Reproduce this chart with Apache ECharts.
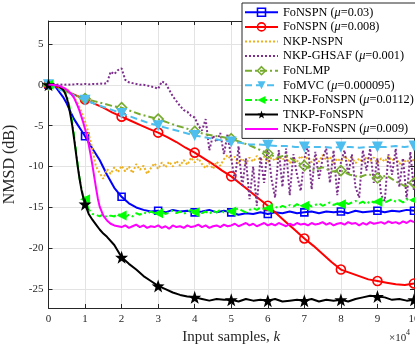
<!DOCTYPE html>
<html><head><meta charset="utf-8">
<script src="https://cdn.jsdelivr.net/npm/echarts@6/dist/echarts.min.js"></script>
<style>html,body{margin:0;padding:0;background:#fff}#c{width:415px;height:353px}</style>
</head><body><div id="c"></div>
<script>
// ---- data (x in units of 1e4 samples, y in dB) ----
const seriesNames = ['FoNSPN (μ=0.03)','FoNSPN (μ=0.008)','NKP-NSPN','NKP-GHSAF (μ=0.001)','FoNLMP','FoMVC (μ=0.000095)','NKP-FoNSPN (μ=0.0112)','TNKP-FoNSPN','NKP-FoNSPN (μ=0.009)'];
const xTicks = [0,1,2,3,4,5,6,7,8,9,10];
const yTicks = [-25,-20,-15,-10,-5,0,5];

const X_Q = [0,0.25,0.5,0.75,1,1.25,1.5,1.75,2,2.25,2.5,2.75,3,3.25,3.5,3.75,4,4.25,4.5,4.75,5,5.25,5.5,5.75,6,6.25,6.5,6.75,7,7.25,7.5,7.75,8,8.25,8.5,8.75,9,9.25,9.5,9.75,10];
const X_T = [0,0.1,0.2,0.3,0.4,0.5,0.6,0.7,0.8,0.9,1,1.1,1.2,1.3,1.4,1.5,1.6,1.7,1.8,1.9,2,2.1,2.2,2.3,2.4,2.5,2.6,2.7,2.8,2.9,3,3.1,3.2,3.3,3.4,3.5,3.6,3.7,3.8,3.9,4,4.1,4.2,4.3,4.4,4.5,4.6,4.7,4.8,4.9,5,5.1,5.2,5.3,5.4,5.5,5.6,5.7,5.8,5.9,6,6.1,6.2,6.3,6.4,6.5,6.6,6.7,6.8,6.9,7,7.1,7.2,7.3,7.4,7.5,7.6,7.7,7.8,7.9,8,8.1,8.2,8.3,8.4,8.5,8.6,8.7,8.8,8.9,9,9.1,9.2,9.3,9.4,9.5,9.6,9.7,9.8,9.9,10];

const blueX = [0,0.2,0.4,0.5,0.6,0.7,0.8,0.9,1,1.2,1.4,1.6,1.8,2,2.2,2.4,2.6,2.8,3,3.2,3.4,3.6,3.8,4,4.2,4.4,4.6,4.8,5,5.2,5.4,5.6,5.8,6,6.2,6.4,6.6,6.8,7,7.2,7.4,7.6,7.8,8,8.2,8.4,8.6,8.8,9,9.2,9.4,9.6,9.8,10];
const blueY = [0,-0.3,-1.5,-2.3,-3.3,-4.2,-4.9,-5.6,-6.3,
 -7.8,-9.2,-11.0,-12.6,-13.7,
 -14.5,-15.0,-15.3,-15.5,-15.4,
 -15.6,-15.3,-15.5,-15.4,-15.6,
 -15.5,-15.3,-15.6,-15.4,-15.6,
 -15.9,-15.7,-15.8,-15.6,-15.8,
 -15.6,-15.7,-15.5,-15.7,-15.6,
 -15.5,-15.7,-15.5,-15.6,-15.5,
 -15.7,-15.4,-15.6,-15.5,-15.4,
 -15.6,-15.4,-15.5,-15.3,-15.4];

const redY = [0,-0.3,-0.8,-1.3,-1.8, -2.3,-2.8,-3.4,-3.9, -4.4,-4.9,-5.4,-5.85, -6.4,-7.0,-7.7,-8.3, -9.0,-9.7,-10.5,-11.2, -12.1,-13.0,-13.9,-14.8, -15.8,-16.8,-17.8,-18.8, -19.7,-20.7,-21.7,-22.6, -23.0,-23.4,-23.8,-24.0, -24.2,-24.4,-24.5,-24.3];

const orangeX = [0,0.1,0.2,0.3,0.4,0.5,0.6,0.7,0.8,0.9,1,1.05,1.1,1.15,1.2,1.25,1.3,1.35,
 1.4,1.5,1.6,1.7,1.8,1.9,2,2.1,2.2,2.3,2.4,2.5,2.6,2.7,2.8,2.9,3,3.1,3.2,3.3,3.4,3.5,3.6,3.7,3.8,3.9,4,4.1,4.2,4.3,4.4,4.5,4.6,4.7,4.8,4.9,5,5.1,5.2,5.3,5.4,5.5,5.6,5.7,5.8,5.9,6,6.1,6.2,6.3,6.4,6.5,6.6,6.7,6.8,6.9,7,7.1,7.2,7.3,7.4,7.5,7.6,7.7,7.8,7.9,8,8.1,8.2,8.3,8.4,8.5,8.6,8.7,8.8,8.9,9,9.1,9.2,9.3,9.4,9.5,9.6,9.7,9.8,9.9,10];
const orangeY = [0,0,-0.05,-0.15,-0.3,-0.55,-0.9,-1.5,-2.3,-3.3,-4.5,-5.2,-6.0,-6.9,-7.8,-9.0,-10.0,-10.4,
 -10.8,-11.5,-10.3,-10.9,-10.1,-10.7,-9.9,
 -10.6,-10.0,-10.8,-9.7,-10.4,-9.9,-10.9,-10.2,-9.6,-10.3,
 -9.5,-10.1,-9.4,-10.0,-9.3,-9.9,-9.2,-9.8,-8.9,-9.5,
 -9.0,-9.7,-10.2,-9.6,-10.3,-9.4,-9.9,-9.1,-8.6,-9.2,
 -8.8,-9.6,-9.0,-9.7,-8.9,-9.4,-8.7,-9.3,-8.8,-9.5,
 -8.9,-9.3,-8.6,-9.2,-8.8,-9.6,-8.9,-9.4,-8.7,-9.3,
 -8.8,-9.5,-8.9,-9.4,-8.6,-9.2,-8.8,-9.7,-9.0,-9.4,
 -8.7,-9.3,-8.9,-9.6,-9.0,-9.5,-8.8,-9.3,-8.9,-9.6,
 -9.0,-9.4,-8.7,-9.3,-8.9,-9.7,-9.1,-9.5,-8.9,-9.3];

const purpleY = [0,0.05,0,0.05,0,0.05,0,0.05,0.1,0.05,0.1,
 0.05,0.1,0.1,0.15,0.1,0.2,1.6,1.3,1.8,2.0,
 0.6,0.3,0.2,0.1,0.0,0.0,-0.1,-0.2,-0.3,-0.5,
 0.4,0.2,-0.6,-1.4,-2.0,-2.6,-3.1,-3.3,-3.8,-4.0,
 -5.0,-5.6,-4.2,-8.0,-6.2,-7.0,-5.9,-8.5,-6.0,-9.0,
 -11.8,-7.5,-12.5,-9.0,-14.0,-10.0,-14.8,-8.8,-12.0,-7.5,
 -11.5,-13.8,-8.0,-12.5,-7.8,-13.5,-8.5,-11.0,-13.0,-9.0,
 -7.5,-12.8,-8.2,-11.5,-9.0,-7.8,-12.0,-8.0,-13.5,-9.5,
 -8.0,-11.0,-8.5,-12.5,-13.8,-8.0,-10.5,-7.8,-12.0,-9.0,
 -13.5,-14.2,-8.5,-11.0,-7.8,-12.5,-9.0,-14.0,-8.2,-13.0];

const oliveY = [0,-0.4,-0.8,-1.3,-1.7, -2.0,-2.3,-2.6,-2.8, -3.2,-3.6,-3.9,-4.2, -4.6,-5.0,-5.3,-5.7, -6.0,-6.2,-6.4,-6.6, -7.0,-7.4,-7.9,-8.4, -8.9,-8.6,-9.4,-9.9, -10.4,-10.1,-10.6,-10.5, -11.0,-11.3,-10.9,-11.4, -11.1,-11.8,-12.4,-12.0];

const skyY = [0,-0.5,-0.9,-1.4,-1.9, -2.3,-2.7,-3.1,-3.5, -3.9,-4.3,-4.7,-5.0, -5.3,-5.6,-5.9,-6.2, -6.4,-6.6,-6.8,-7.0, -7.1,-7.3,-7.3,-7.4, -7.5,-7.5,-7.6,-7.6, -7.6,-7.6,-7.7,-7.6, -7.6,-7.7,-7.6,-7.6, -7.6,-7.5,-7.6,-7.5];

const greenX = [0,0.1,0.2,0.3,0.4,0.45,0.5,0.55,0.6,0.65,0.7,0.75,0.8,0.85,0.9,0.95,1,
 1.1,1.2,1.3,1.4,1.5,1.6,1.7,1.8,1.9,2,2.1,2.2,2.3,2.4,2.5,2.6,2.7,2.8,2.9,3,3.1,3.2,3.3,3.4,3.5,3.6,3.7,3.8,3.9,4,4.1,4.2,4.3,4.4,4.5,4.6,4.7,4.8,4.9,5,5.1,5.2,5.3,5.4,5.5,5.6,5.7,5.8,5.9,6,6.1,6.2,6.3,6.4,6.5,6.6,6.7,6.8,6.9,7,7.1,7.2,7.3,7.4,7.5,7.6,7.7,7.8,7.9,8,8.1,8.2,8.3,8.4,8.5,8.6,8.7,8.8,8.9,9,9.1,9.2,9.3,9.4,9.5,9.6,9.7,9.8,9.9,10];
const greenY = [0,0,-0.05,-0.2,-0.5,-0.9,-1.4,-2.2,-3.3,-4.6,-6.2,-8.0,-9.8,-11.4,-12.7,-13.6,-14.0,
 -15.2,-15.8,-15.9,-16.1,-15.8,-16.2,-16.0,-16.1,-15.8,-16.0,
 -16.2,-15.9,-16.1,-15.7,-15.9,-15.6,-15.8,-15.5,-15.7,-15.7,
 -15.5,-15.8,-15.6,-15.4,-15.7,-15.5,-15.8,-15.5,-15.3,-15.6,
 -15.4,-15.7,-15.5,-15.8,-15.4,-15.6,-15.3,-15.6,-15.4,-15.5,
 -15.3,-15.1,-15.4,-15.6,-15.3,-15.1,-15.3,-15.0,-15.2,-15.1,
 -15.3,-14.9,-15.1,-14.8,-15.0,-14.7,-14.9,-14.6,-14.9,-14.8,
 -14.6,-14.9,-14.7,-14.5,-14.8,-14.6,-14.4,-14.7,-14.5,-14.6,
 -14.3,-14.6,-14.4,-14.2,-14.5,-14.3,-14.6,-14.2,-14.4,-14.3,
 -14.1,-14.4,-14.2,-14.0,-14.3,-14.1,-14.4,-14.0,-14.2,-14.1];

const blackX = [0,0.1,0.2,0.3,0.4,0.45,0.5,0.55,0.6,0.65,0.7,0.75,0.8,0.85,0.9,0.95,1,
 1.1,1.2,1.3,1.4,1.5,1.6,
 1.8,2,2.2,2.4,2.6,2.8,3,3.2,3.4,3.6,3.8,4,4.2,4.4,4.6,4.8,5,5.2,5.4,5.6,5.8,6,6.2,6.4,6.6,6.8,7,7.2,7.4,7.6,7.8,8,8.2,8.4,8.6,8.8,9,9.2,9.4,9.6,9.8,10];
const blackY = [0,0,-0.05,-0.2,-0.6,-1.0,-1.6,-2.5,-3.7,-5.0,-6.6,-8.3,-10.0,-11.5,-12.8,-13.8,-14.6,
 -15.8,-16.5,-17.1,-17.7,-18.2,-18.6,
 -19.6,-21.1,-21.9,-22.6,-23.4,-24.0,-24.6,
 -25.0,-25.4,-25.7,-25.9,-26.0,
 -26.2,-26.4,-26.2,-26.3,-26.3,
 -26.5,-26.2,-26.4,-26.3,-26.4,
 -26.2,-26.5,-26.4,-26.3,-26.4,
 -26.2,-26.5,-26.3,-26.4,-26.3,
 -26.5,-26.2,-26.0,-25.8,-25.9,
 -26.0,-26.3,-26.2,-26.4,-26.3];

const magentaX = [0,0.1,0.2,0.3,0.4,0.5,0.6,0.7,0.8,0.85,0.9,0.95,1,1.05,1.1,1.15,1.2,1.25,1.3,1.35,1.4,1.5,1.6,1.7,1.8,1.9,2,
 2.1,2.2,2.3,2.4,2.5,2.6,2.7,2.8,2.9,3,3.1,3.2,3.3,3.4,3.5,3.6,3.7,3.8,3.9,4,4.1,4.2,4.3,4.4,4.5,4.6,4.7,4.8,4.9,5,5.1,5.2,5.3,5.4,5.5,5.6,5.7,5.8,5.9,6,6.1,6.2,6.3,6.4,6.5,6.6,6.7,6.8,6.9,7,7.1,7.2,7.3,7.4,7.5,7.6,7.7,7.8,7.9,8,8.1,8.2,8.3,8.4,8.5,8.6,8.7,8.8,8.9,9,9.1,9.2,9.3,9.4,9.5,9.6,9.7,9.8,9.9,10];
const magentaY = [0,0,-0.05,-0.15,-0.35,-0.6,-1.0,-1.6,-2.6,-3.2,-3.9,-4.6,-5.4,-6.3,-7.3,-8.5,-9.8,-11.2,-12.6,-13.9,-14.9,-16.0,-16.6,-17.0,-17.2,-17.3,-17.4,
 -17.2,-17.5,-17.3,-17.1,-17.4,-17.2,-17.5,-17.3,-17.4,-17.2,
 -17.5,-17.3,-17.6,-17.2,-17.4,-17.3,-17.5,-17.2,-17.4,-17.3,
 -17.1,-17.4,-17.2,-17.5,-17.3,-17.2,-17.4,-17.1,-17.3,-17.2,
 -17.0,-17.3,-17.1,-16.9,-17.2,-17.0,-17.3,-17.1,-16.9,-17.2,
 -17.0,-17.2,-16.9,-17.1,-17.3,-17.0,-17.2,-16.9,-17.1,-17.0,
 -17.2,-16.9,-17.1,-17.0,-16.8,-17.1,-16.9,-17.2,-17.0,-16.9,
 -17.1,-16.8,-17.0,-16.9,-17.2,-16.9,-17.1,-16.8,-17.0,-16.9,
 -16.8,-17.0,-16.7,-16.9,-16.8,-17.0,-16.7,-16.9,-16.6,-16.8];

// ---- presentation ----
const FONT = 'Liberation Serif';
const AX = '#262626';
const STAR = 'path://M0,-10 L2.35,-3.24 9.51,-3.09 3.8,1.24 5.88,8.09 0,4 -5.88,8.09 -3.8,1.24 -9.51,-3.09 -2.35,-3.24Z';
const TRI_DOWN = 'path://M0,0 L10,0 5,9Z';
const TRI_LEFT = 'path://M0,5 L9,0 9,10Z';

function pts(xs, ys, marked) {
  const n = Math.min(xs.length, ys.length), out = [];
  for (let i = 0; i < n; i++) {
    const m = marked && Math.abs(xs[i] - Math.round(xs[i])) < 1e-9;
    out.push(m ? { value: [xs[i], ys[i]] } : { value: [xs[i], ys[i]], symbol: 'none' });
  }
  return out;
}

const defs = [
  { xs: blueX, ys: blueY, color: '#0000ff', type: 'solid', symbol: 'rect', size: 7, fill: 'rgba(0,0,0,0)', bw: 1.6 },
  { xs: X_Q, ys: redY, color: '#ff0000', type: 'solid', symbol: 'circle', size: 9, fill: 'rgba(0,0,0,0)', bw: 1.6 },
  { xs: orangeX, ys: orangeY, color: '#EDB120', type: [2, 2], symbol: null },
  { xs: X_T, ys: purpleY, color: '#7E2F8E', type: [2, 2], symbol: null },
  { xs: X_Q, ys: oliveY, color: '#77AC30', type: [7, 3, 2, 3], symbol: 'diamond', size: 10, fill: 'rgba(0,0,0,0)', bw: 1.6 },
  { xs: X_Q, ys: skyY, color: '#4DBEEE', type: [7, 4], symbol: TRI_DOWN, size: 11, fill: '#4DBEEE', bw: 0 },
  { xs: greenX, ys: greenY, color: '#00ff00', type: [7, 3, 2, 3], symbol: TRI_LEFT, size: 10, fill: '#00ff00', bw: 0 },
  { xs: blackX, ys: blackY, color: '#000000', type: 'solid', symbol: STAR, size: 13, fill: '#000000', bw: 0 },
  { xs: magentaX, ys: magentaY, color: '#ff00ff', type: 'solid', symbol: null }
];

const series = defs.map((d, i) => ({
  name: seriesNames[i],
  type: 'line',
  xAxisIndex: 0, yAxisIndex: 0,
  data: pts(d.xs, d.ys, !!d.symbol),
  symbol: d.symbol || 'none',
  symbolSize: d.size || 0,
  showSymbol: !!d.symbol,
  lineStyle: { color: d.color, width: 2, type: d.type },
  itemStyle: d.symbol ? { color: d.fill, borderColor: d.color, borderWidth: d.bw } : { color: 'rgba(0,0,0,0)' },
  emphasis: { disabled: true },
  z: 2 + i
}));

const legendData = defs.map((d, i) => ({
  name: seriesNames[i],
  lineStyle: { color: d.color, width: 2, type: d.type },
  itemStyle: d.symbol ? { color: d.fill, borderColor: d.color, borderWidth: d.bw } : { color: 'rgba(0,0,0,0)', borderWidth: 0, opacity: 0 }
}));

const tickLabel = { fontFamily: FONT, fontSize: 11, color: AX };
const axLine = { show: true, onZero: false, lineStyle: { color: AX, width: 1 } };
const axTick = { show: true, inside: true, length: 4, lineStyle: { color: AX, width: 1 } };
const grid = { color: '#e3e3e3', width: 1 };

const option = {
  animation: false,
  backgroundColor: '#fff',
  grid: { left: 48.5, right: 1, top: 21, bottom: 45, containLabel: false, outerBoundsMode: 'none' },
  xAxis: [
    { type: 'value', min: xTicks[0], max: xTicks[xTicks.length - 1], interval: 1, position: 'bottom',
      axisLine: axLine, axisTick: axTick, axisLabel: Object.assign({ margin: 6 }, tickLabel),
      splitLine: { show: true, lineStyle: grid },
      name: 'Input samples, {i|k}', nameLocation: 'middle', nameGap: 22,
      nameTextStyle: { fontFamily: FONT, fontSize: 15, color: AX, rich: { i: { fontFamily: FONT, fontSize: 15, fontStyle: 'italic', color: AX } } } },
    { type: 'value', min: xTicks[0], max: xTicks[xTicks.length - 1], interval: 1, position: 'top',
      axisLine: axLine, axisTick: axTick, axisLabel: { show: false }, splitLine: { show: false } }
  ],
  yAxis: [
    { type: 'value', min: -27.3, max: 7.8, splitNumber: 7, position: 'left',
      axisLine: axLine, axisTick: axTick,
      axisLabel: Object.assign({ margin: 5, showMinLabel: false, showMaxLabel: false,
        formatter: v => (yTicks.indexOf(v) >= 0 ? String(v) : '') }, tickLabel),
      splitLine: { show: true, lineStyle: grid },
      name: 'NMSD (dB)', nameLocation: 'middle', nameGap: 15,
      nameTextStyle: { fontFamily: FONT, fontSize: 16, color: AX } },
    { type: 'value', min: -27.3, max: 7.8, splitNumber: 7, position: 'right',
      axisLine: axLine, axisTick: axTick, axisLabel: { show: false }, splitLine: { show: false } }
  ],
  legend: {
    orient: 'vertical', left: 242, top: 3, padding: [2, 6, 2, 2],
    itemWidth: 33, itemHeight: 10, itemGap: 0,
    backgroundColor: '#fff', borderColor: AX, borderWidth: 1, borderRadius: 0,
    selectedMode: false,
    textStyle: { fontFamily: FONT, fontSize: 12.3, color: '#000', lineHeight: 14.6,
      rich: { i: { fontFamily: FONT, fontSize: 12.3, fontStyle: 'italic', color: '#000', lineHeight: 14.6 } } },
    formatter: n => n.replace('μ', '{i|μ}'),
    data: legendData
  },
  graphic: [
    { type: 'text', left: 389, top: 333, style: { text: '×10', fontFamily: FONT, fontSize: 11, fill: AX } },
    { type: 'text', left: 406, top: 329, style: { text: '4', fontFamily: FONT, fontSize: 8, fill: AX } }
  ],
  series: series
};

const chart = echarts.init(document.getElementById('c'), null, { renderer: 'canvas' });
chart.setOption(option);
</script>
</body></html>
